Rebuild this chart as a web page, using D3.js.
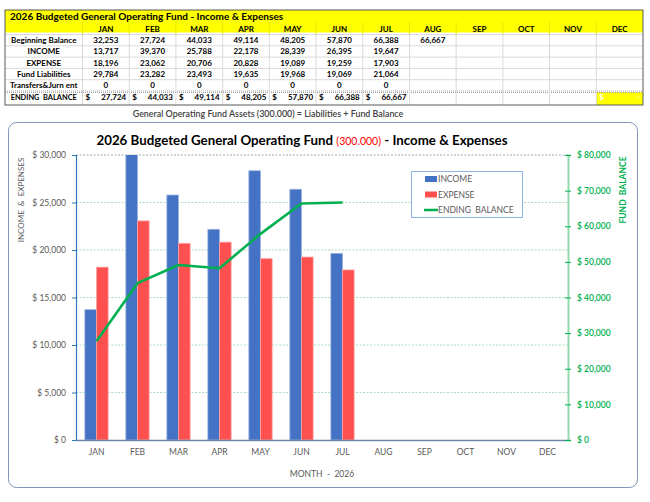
<!DOCTYPE html>
<html><head><meta charset="utf-8">
<script src="https://cdn.jsdelivr.net/npm/d3@7/dist/d3.min.js"></script>
<style>body{margin:0;background:#fff;} svg{display:block;font-family:Lato,"Open Sans",sans-serif;} svg text{white-space:pre;}</style>
</head><body><svg id="c" width="650" height="502"></svg>
<script>
const months = ["JAN","FEB","MAR","APR","MAY","JUN","JUL","AUG","SEP","OCT","NOV","DEC"];
const beginningBalance = [32253,27724,44033,49114,48205,57870,66388,66667];
const income = [13717,39370,25788,22178,28339,26395,19647];
const expense = [18196,23062,20706,20828,19089,19259,17903];
const fundLiabilities = [29784,23282,23493,19635,19968,19069,21064];
const transfers = [0,0,0,0,0,0,0];
const endingBalance = [27724,44033,49114,48205,57870,66388,66667];
const rowLabels = ["Beginning Balance","INCOME","EXPENSE","Fund Liabilities","Transfers&Jurn ent"];
const leftTicks = [0,5000,10000,15000,20000,25000,30000];
const rightTicks = [0,10000,20000,30000,40000,50000,60000,70000,80000];
const seriesNames = ["INCOME","EXPENSE","ENDING  BALANCE"];

const svg = d3.select("#c");
const fmt = d3.format(",");

// ---------- TABLE ----------
const tX0 = 5, tX1 = 643, labelW = 77.5, tTop = 10, tBot = 105;
const col = d3.scaleBand().domain(months).range([tX0+labelW, tX1]);
const rowTop = 34.5, rowH = 11.3;
const T = svg.append("g");
T.append("rect").attr("x",tX0).attr("y",tTop).attr("width",tX1-tX0).attr("height",22.5).attr("fill","#FFFF00");
T.append("rect").attr("x",col("DEC")).attr("y",rowTop+5*rowH+1).attr("width",col.bandwidth()).attr("height",tBot-(rowTop+5*rowH+1)).attr("fill","#FFFF00");
for(let i=0;i<=4;i++){
  T.append("line").attr("x1",tX0).attr("x2",tX1).attr("y1",rowTop+(i+1)*rowH).attr("y2",rowTop+(i+1)*rowH)
   .attr("stroke", i===4 ? "#A6A6A6" : "#D9D9D9").attr("stroke-width",1).attr("stroke-dasharray", i===4 ? "1,1" : null);
}
T.append("line").attr("x1",tX0).attr("x2",tX1).attr("y1",rowTop+5*rowH+1.5).attr("y2",rowTop+5*rowH+1.5).attr("stroke","#A6A6A6").attr("stroke-dasharray","1,1");
T.append("line").attr("x1",tX0).attr("x2",tX1).attr("y1",rowTop).attr("y2",rowTop).attr("stroke","#D9D9D9");
const colEdges = [tX0+labelW].concat(months.slice(1).map(m=>col(m)));
colEdges.forEach(x=>{
  T.append("line").attr("x1",x).attr("x2",x).attr("y1",rowTop).attr("y2",tBot).attr("stroke","#D9D9D9");
  T.append("line").attr("x1",x).attr("x2",x).attr("y1",22).attr("y2",rowTop).attr("stroke","#E8E800");
});
T.append("rect").attr("x",tX0).attr("y",tTop).attr("width",tX1-tX0).attr("height",tBot-tTop).attr("fill","none").attr("stroke","#595959");
T.append("text").attr("x",10).attr("y",20).attr("font-size",10).attr("font-weight",700).attr("fill","#000")
 .text("2026 Budgeted General Operating Fund - Income & Expenses");
months.forEach(m=>{
  T.append("text").attr("x",col(m)+col.bandwidth()/2).attr("y",31.5).attr("text-anchor","middle")
   .attr("font-size",8).attr("font-weight",700).attr("fill","#000").text(m);
});
const rowsData = [beginningBalance,income,expense,fundLiabilities,transfers];
const labX = tX0+labelW/2;
rowLabels.forEach((lab,i)=>{
  const cy = rowTop + i*rowH + rowH/2 + 3;
  T.append("text").attr("x",labX).attr("y",cy).attr("text-anchor","middle").attr("font-size",8).attr("font-weight",700).text(lab);
  rowsData[i].forEach((v,j)=>{
    T.append("text").attr("x",col(months[j])+col.bandwidth()/2).attr("y",cy).attr("text-anchor","middle")
     .attr("font-size",8).attr("font-weight",700).text(fmt(v));
  });
});
const ey = rowTop + 5*rowH + 8.5;
T.append("text").attr("x",labX).attr("y",ey).attr("text-anchor","middle").attr("font-size",7.4).attr("font-weight",700).text("ENDING  BALANCE");
endingBalance.forEach((v,j)=>{
  const cx = col(months[j]);
  T.append("text").attr("x",cx+3).attr("y",ey).attr("font-size",8).attr("font-weight",700).text("$");
  T.append("text").attr("x",cx+col.bandwidth()-3).attr("y",ey).attr("text-anchor","end").attr("font-size",8).attr("font-weight",700).text(fmt(v));
});
T.append("text").attr("x",col("DEC")+3).attr("y",ey).attr("font-size",8).attr("font-weight",700).attr("fill","#fff").text("$");
T.append("text").attr("x",col("DEC")+col.bandwidth()-3).attr("y",ey).attr("text-anchor","end").attr("font-size",8).attr("font-weight",700).attr("fill","#fff").text("-");

// caption
svg.append("text").attr("x",268).attr("y",117).attr("text-anchor","middle").attr("font-size",8.9).attr("font-weight",600).attr("fill","#404040")
 .text("General Operating Fund Assets (300.000) = Liabilities + Fund Balance");

// ---------- CHART ----------
svg.append("rect").attr("x",8.5).attr("y",122.5).attr("width",629).attr("height",365).attr("rx",8)
 .attr("fill","#fff").attr("stroke","#7F96B8").attr("stroke-width",1);

const title = svg.append("text").attr("x",302).attr("y",145).attr("text-anchor","middle").attr("font-size",13.3).attr("font-weight",700).attr("fill","#000");
title.append("tspan").text("2026 Budgeted General Operating Fund ");
title.append("tspan").attr("fill","#FF0000").attr("font-weight",400).attr("font-size",10.5).text("(300.000)");
title.append("tspan").text(" - Income & Expenses");

const px0 = 76, px1 = 568, py0 = 440, py1 = 155;
const x = d3.scaleBand().domain(months).range([px0,px1]).padding(0);
const xs = d3.scaleBand().domain(["INCOME","EXPENSE"]).range([0,x.bandwidth()]).paddingInner(0).paddingOuter(0.76);
const yL = d3.scaleLinear().domain([0,30000]).range([py0,py1]);
const yR = d3.scaleLinear().domain([0,80000]).range([py0,py1]);

svg.append("g").selectAll("line").data(leftTicks.filter(d=>d>0)).join("line")
 .attr("x1",px0).attr("x2",px1).attr("y1",d=>yL(d)).attr("y2",d=>yL(d))
 .attr("stroke",d=>d===30000?"#9AA8B5":"#A9DCC0").attr("stroke-width",1).attr("stroke-dasharray","2,1.5");

svg.append("clipPath").attr("id","plotclip").append("rect").attr("x",px0).attr("y",py1).attr("width",px1-px0).attr("height",py0-py1);
const bars = svg.append("g").attr("clip-path","url(#plotclip)");
const barData = [];
income.forEach((v,i)=>barData.push({m:months[i],k:"INCOME",v}));
expense.forEach((v,i)=>barData.push({m:months[i],k:"EXPENSE",v}));
const colors = {INCOME:"#4472C4",EXPENSE:"#FF5050"};
const edge = {INCOME:"#9DB3E0",EXPENSE:"#FFA5A5"};
bars.selectAll("rect").data(barData).join("rect")
 .attr("x",d=>x(d.m)+xs(d.k)).attr("width",xs.bandwidth())
 .attr("y",d=>yL(d.v)).attr("height",d=>py0-yL(d.v))
 .attr("fill",d=>colors[d.k]).attr("stroke",d=>edge[d.k]).attr("stroke-width",0.8);

const xAx = svg.append("g").attr("transform",`translate(0,${py0})`).call(d3.axisBottom(x).tickSize(0).tickPadding(9));
xAx.select(".domain").attr("stroke","#6D86A8").attr("stroke-width",1.3);
xAx.selectAll("text").attr("font-size",8.5).attr("fill","#595959").attr("font-family","Lato");

const lAx = svg.append("g").attr("transform",`translate(${px0},0)`).call(d3.axisLeft(yL).tickValues(leftTicks).tickSize(4).tickPadding(6).tickFormat(d=>"$ "+fmt(d)));
lAx.select(".domain").attr("stroke","#2E75B6").attr("stroke-width",1.2);
lAx.selectAll(".tick line").attr("stroke","#2E75B6");
lAx.selectAll("text").attr("font-size",8.5).attr("fill","#595959").attr("font-family","Lato");

const rAx = svg.append("g").attr("transform",`translate(${px1},0)`).call(d3.axisRight(yR).tickValues(rightTicks).tickSizeInner(3).tickSizeOuter(3).tickPadding(6).tickFormat(d=>"$ "+fmt(d)));
rAx.select(".domain").attr("stroke","#92D9AE").attr("stroke-width",2);
rAx.selectAll(".tick line").attr("stroke","#00B050").attr("x1",-3);
rAx.selectAll("text").attr("font-size",8.5).attr("fill","#00B050").attr("font-weight",600).attr("font-family","Lato");

const line = d3.line().x((d,i)=>x(months[i])+x.bandwidth()/2).y(d=>yR(d));
svg.append("path").datum(endingBalance).attr("d",line).attr("fill","none").attr("stroke","#00B050").attr("stroke-width",2.6).attr("stroke-linejoin","round");

svg.append("text").attr("transform","translate(24,200) rotate(-90)").attr("text-anchor","middle").attr("font-size",8).attr("fill","#595959").text("INCOME  &  EXPENSES");
svg.append("text").attr("transform","translate(626,190) rotate(-90)").attr("text-anchor","middle").attr("font-size",8.5).attr("font-weight",700).attr("fill","#00B050").text("FUND  BALANCE");
svg.append("text").attr("x",322).attr("y",477).attr("text-anchor","middle").attr("font-size",8.5).attr("fill","#595959").text("MONTH  -  2026");

const lg = svg.append("g");
lg.append("rect").attr("x",411.5).attr("y",171.5).attr("width",111).attr("height",46).attr("fill","#fff").attr("stroke","#8EB4E3");
const lgY = [179,194.5,210];
seriesNames.forEach((n,i)=>{
  if(i<2) lg.append("rect").attr("x",425).attr("y",lgY[i]-3).attr("width",12).attr("height",6).attr("fill",colors[n]);
  else lg.append("line").attr("x1",424).attr("x2",438).attr("y1",lgY[i]).attr("y2",lgY[i]).attr("stroke","#00B050").attr("stroke-width",2.5);
  lg.append("text").attr("x",438).attr("y",lgY[i]+3.2).attr("font-size",8.5).attr("fill","#595959").text(n);
});
</script></body></html>
